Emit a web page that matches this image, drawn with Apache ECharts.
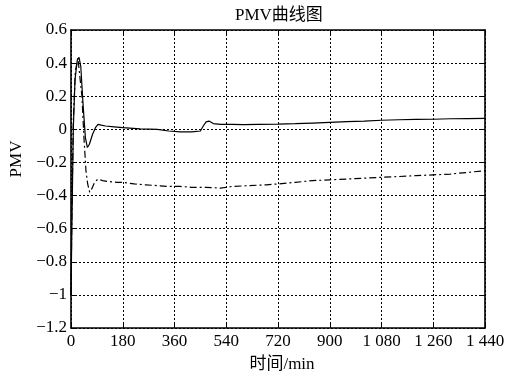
<!DOCTYPE html>
<html>
<head>
<meta charset="utf-8">
<script src="https://cdn.jsdelivr.net/npm/echarts@6/dist/echarts.min.js"></script>
<style>html,body{margin:0;padding:0;background:#fff;}#c{width:509px;height:378px;}</style>
</head>
<body>
<div id="c"></div>
<script>
const titleText = 'PMV曲线图';
const xName = '时间/min';
const yName = 'PMV';
const xTicks = [0, 180, 360, 540, 720, 900, 1080, 1260, 1440];
const yTicks = [-1.2, -1, -0.8, -0.6, -0.4, -0.2, 0, 0.2, 0.4, 0.6];

const solidT = [0, 3, 8, 14, 22, 28, 34, 42, 50, 57, 64, 75, 85, 94, 105, 120, 150, 180, 240, 300, 340, 380, 420, 450, 460, 470, 480, 495, 520, 560, 600, 650, 720, 780, 840, 900, 960, 1020, 1080, 1140, 1200, 1260, 1320, 1380, 1440];
const solidV = [-1.0, -0.6, 0.0, 0.3, 0.42, 0.435, 0.38, 0.15, -0.05, -0.11, -0.09, -0.03, 0.01, 0.03, 0.025, 0.02, 0.015, 0.01, 0.003, 0.0, -0.01, -0.015, -0.015, -0.01, 0.02, 0.045, 0.05, 0.035, 0.03, 0.03, 0.028, 0.03, 0.031, 0.034, 0.038, 0.042, 0.046, 0.05, 0.055, 0.058, 0.06, 0.061, 0.064, 0.065, 0.066];

const dashT = [0, 3, 8, 15, 24, 30, 38, 45, 52, 58, 65, 72, 82, 94, 110, 130, 160, 180, 220, 260, 300, 340, 380, 420, 470, 520, 560, 620, 680, 720, 780, 840, 900, 960, 1020, 1080, 1140, 1200, 1260, 1320, 1380, 1440];
const dashV = [-1.0, -0.5, 0.05, 0.35, 0.43, 0.42, 0.2, -0.05, -0.25, -0.33, -0.38, -0.36, -0.32, -0.30, -0.31, -0.315, -0.32, -0.32, -0.33, -0.335, -0.34, -0.345, -0.345, -0.35, -0.35, -0.355, -0.345, -0.34, -0.335, -0.33, -0.32, -0.31, -0.305, -0.30, -0.295, -0.29, -0.285, -0.28, -0.275, -0.27, -0.26, -0.25];

const FONT = '"Liberation Serif", "Times New Roman", "Noto Sans CJK SC", serif';
const FS = 17;
function fmtX(v) {
  const s = String(Math.round(v));
  return s.length > 3 ? s.slice(0, s.length - 3) + ' ' + s.slice(s.length - 3) : s;
}
function fmtY(v) {
  const r = Math.round(v * 10) / 10;
  let s = (r === 0) ? '0' : String(r);
  return s.replace('-', '\u2212');
}
const axisLineStyle = { color: '#000', width: 1.6 };
const chart = echarts.init(document.getElementById('c'), null, { renderer: 'canvas' });
chart.setOption({
  animation: false,
  backgroundColor: '#fff',
  title: {
    text: titleText, left: 230, top: 2,
    textStyle: { fontFamily: FONT, fontSize: FS, fontWeight: 'normal', color: '#000' }
  },
  grid: { left: 71, right: 24, top: 30, bottom: 45, containLabel: false },
  xAxis: [{
    type: 'value', min: 0, max: 1440, interval: 180,
    name: xName, nameLocation: 'middle', nameGap: 28,
    nameTextStyle: { fontFamily: FONT, fontSize: FS, color: '#000', padding: [0, 0, 0, 8] },
    axisLine: { show: true, onZero: false, lineStyle: axisLineStyle },
    axisTick: { show: true, inside: true, length: 4, lineStyle: { color: '#000' } },
    axisLabel: { fontFamily: FONT, fontSize: FS, color: '#000', margin: 5, formatter: fmtX },
    splitLine: { show: true, lineStyle: { color: '#000', type: [2, 2], width: 1 } }
  }, {
    type: 'value', position: 'top', min: 0, max: 1440, interval: 180,
    axisLine: { show: true, onZero: false, lineStyle: axisLineStyle },
    axisTick: { show: true, inside: true, length: 4, lineStyle: { color: '#000' } },
    axisLabel: { show: false }, splitLine: { show: false }
  }],
  yAxis: [{
    type: 'value', min: -1.2, max: 0.6, interval: 0.2,
    name: yName, nameLocation: 'middle', nameGap: 45, nameRotate: 90,
    nameTextStyle: { fontFamily: FONT, fontSize: FS, color: '#000', padding: [0, 0, 0, 40] },
    axisLine: { show: true, onZero: false, lineStyle: axisLineStyle },
    axisTick: { show: true, inside: true, length: 4, lineStyle: { color: '#000' } },
    axisLabel: { fontFamily: FONT, fontSize: FS, color: '#000', margin: 4, formatter: fmtY },
    splitLine: { show: true, lineStyle: { color: '#000', type: [2, 2], width: 1 } }
  }, {
    type: 'value', position: 'right', min: -1.2, max: 0.6, interval: 0.2,
    axisLine: { show: true, onZero: false, lineStyle: axisLineStyle },
    axisTick: { show: true, inside: true, length: 4, lineStyle: { color: '#000' } },
    axisLabel: { show: false }, splitLine: { show: false }
  }],
  series: [{
    type: 'line', name: 'solid', showSymbol: false, symbol: 'none',
    data: solidT.map((t, i) => [t, solidV[i]]),
    lineStyle: { color: '#000', width: 1.2, type: 'solid' }
  }, {
    type: 'line', name: 'dashdot', showSymbol: false, symbol: 'none',
    data: dashT.map((t, i) => [t, dashV[i]]),
    lineStyle: { color: '#000', width: 1.2, type: [7, 3, 2, 3] }
  }]
});
</script>
</body>
</html>
